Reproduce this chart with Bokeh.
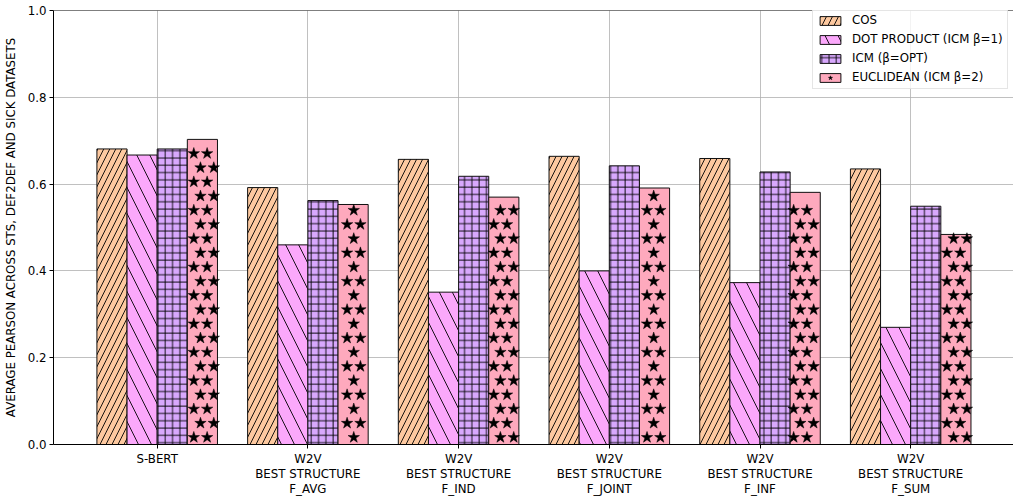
import numpy as np
from bokeh.plotting import figure
from bokeh.models import (ColumnDataSource, FixedTicker, PrintfTickFormatter, Span,
                          Legend, LegendItem, Range1d)
from bokeh.embed import file_html
from bokeh.resources import INLINE

groups = ["S-BERT",
          "W2V\nBEST STRUCTURE\nF_AVG",
          "W2V\nBEST STRUCTURE\nF_IND",
          "W2V\nBEST STRUCTURE\nF_JOINT",
          "W2V\nBEST STRUCTURE\nF_INF",
          "W2V\nBEST STRUCTURE\nF_SUM"]
cos_vals = [0.681, 0.592, 0.657, 0.664, 0.659, 0.635]
dot_vals = [0.667, 0.460, 0.351, 0.400, 0.373, 0.270]
icm_vals = [0.681, 0.562, 0.618, 0.642, 0.628, 0.549]
euc_vals = [0.703, 0.553, 0.570, 0.591, 0.581, 0.484]
series_labels = ["COS", "DOT PRODUCT (ICM β=1)", "ICM (β=OPT)", "EUCLIDEAN (ICM β=2)"]
y_ticks = [0.0, 0.2, 0.4, 0.6, 0.8, 1.0]

FONT = "DejaVu Sans"
FS = "11.8px"
W, H = 1013, 499
BL, BR, BT, BB = 53, 0, 10, 53
frame_w = W - BL - BR
frame_h = H - BT - BB

px_per_x = 150.7
x_start = -(156.7 - BL) / px_per_x
x_end = x_start + frame_w / px_per_x
px_per_y = frame_h / 1.0

p = figure(width=W, height=H, output_backend="svg", toolbar_location=None,
           x_range=Range1d(x_start, x_end), y_range=Range1d(0, 1.0),
           min_border_left=BL, min_border_right=BR, min_border_top=BT,
           min_border_bottom=BB)
p.outline_line_color = None
p.background_fill_color = "white"
p.border_fill_color = "white"

xs = np.arange(len(groups))
bw = 0.2
offsets = [-0.3, -0.1, 0.1, 0.3]
fills = ["#fdc9a0", "#fba8fb", "#d8a8fd", "#fea9bd"]
hatches = ["/", "\\", "+", " "]
hscales = [12, 26, 7.3, 12]
vals = [cos_vals, dot_vals, icm_vals, euc_vals]

renderers = []
for v, off, fc, hp, hs in zip(vals, offsets, fills, hatches, hscales):
    src = ColumnDataSource(dict(x=xs + off, top=v))
    r = p.vbar(x="x", top="top", width=bw, bottom=0, source=src,
               fill_color=fc, line_color="#111111", line_width=1,
               hatch_pattern=hp, hatch_color="black", hatch_weight=0.9,
               hatch_scale=hs)
    renderers.append(r)

# star hatch for the EUCLIDEAN bars (pattern in screen pixels, like matplotlib)
dx = 13.33 / px_per_x
dy = 14.26 / px_per_y
x0 = 36.6 / px_per_x
mx = 3.5 / px_per_x
my = 4.0 / px_per_y
sx, sy = [], []
for g, top in zip(xs, euc_vals):
    left = g + offsets[3] - bw / 2 + mx
    right = g + offsets[3] + bw / 2 - mx
    k = 0
    while (k + 0.5) * dy <= top - my:
        yk = (k + 0.5) * dy
        base = x0 + (0 if k % 2 == 0 else dx / 2)
        m0 = int(np.ceil((left - base) / dx))
        m1 = int(np.floor((right - base) / dx))
        for m in range(m0, m1 + 1):
            sx.append(base + m * dx)
            sy.append(yk)
        k += 1
star_src = ColumnDataSource(dict(x=sx, y=sy))
star_r = p.scatter(x="x", y="y", source=star_src, marker="star", size=12,
                   fill_color="black", line_color="black", line_width=0.5)

# top spine
p.add_layout(Span(location=1.0, dimension="width", line_color="black", line_width=1))

# axes
p.xaxis.ticker = FixedTicker(ticks=list(xs))
p.xaxis.major_label_overrides = {int(i): lab for i, lab in zip(xs, groups)}
p.yaxis.ticker = FixedTicker(ticks=y_ticks)
p.yaxis.formatter = PrintfTickFormatter(format="%.1f")
p.yaxis.axis_label = "AVERAGE PEARSON ACROSS STS, DEF2DEF AND SICK DATASETS"
for ax in (p.xaxis[0], p.yaxis[0]):
    ax.major_label_text_font = FONT
    ax.major_label_text_font_size = FS
    ax.major_label_text_color = "black"
    ax.major_tick_in = 0
    ax.major_tick_out = 4
    ax.minor_tick_in = 0
    ax.minor_tick_out = 0
    ax.axis_line_color = "black"
    ax.major_tick_line_color = "black"
    ax.axis_label_text_font = FONT
    ax.axis_label_text_font_size = FS
    ax.axis_label_text_font_style = "normal"
    ax.axis_label_text_color = "black"
p.xaxis.major_label_standoff = 3
p.xaxis.major_label_text_line_height = 1.1
p.yaxis.major_label_standoff = 3
p.yaxis.axis_label_standoff = 7

for gr in (p.xgrid[0], p.ygrid[0]):
    gr.grid_line_color = "#b0b0b0"
    gr.grid_line_width = 0.8
p.xgrid.ticker = FixedTicker(ticks=list(xs))
p.ygrid.ticker = FixedTicker(ticks=y_ticks)

items = [LegendItem(label=series_labels[0], renderers=[renderers[0]]),
         LegendItem(label=series_labels[1], renderers=[renderers[1]]),
         LegendItem(label=series_labels[2], renderers=[renderers[2]]),
         LegendItem(label=series_labels[3], renderers=[renderers[3], star_r])]
legend = Legend(items=items, location=(759, 355), orientation="vertical",
                padding=4, spacing=5, margin=0, glyph_width=26, glyph_height=11,
                label_height=13, label_standoff=9,
                label_text_font=FONT, label_text_font_size=FS,
                label_text_color="black",
                border_line_color="#cccccc", border_line_width=1,
                background_fill_color="white", background_fill_alpha=0.8)
p.add_layout(legend, "center")

open("out.html", "w").write(file_html(p, INLINE))
